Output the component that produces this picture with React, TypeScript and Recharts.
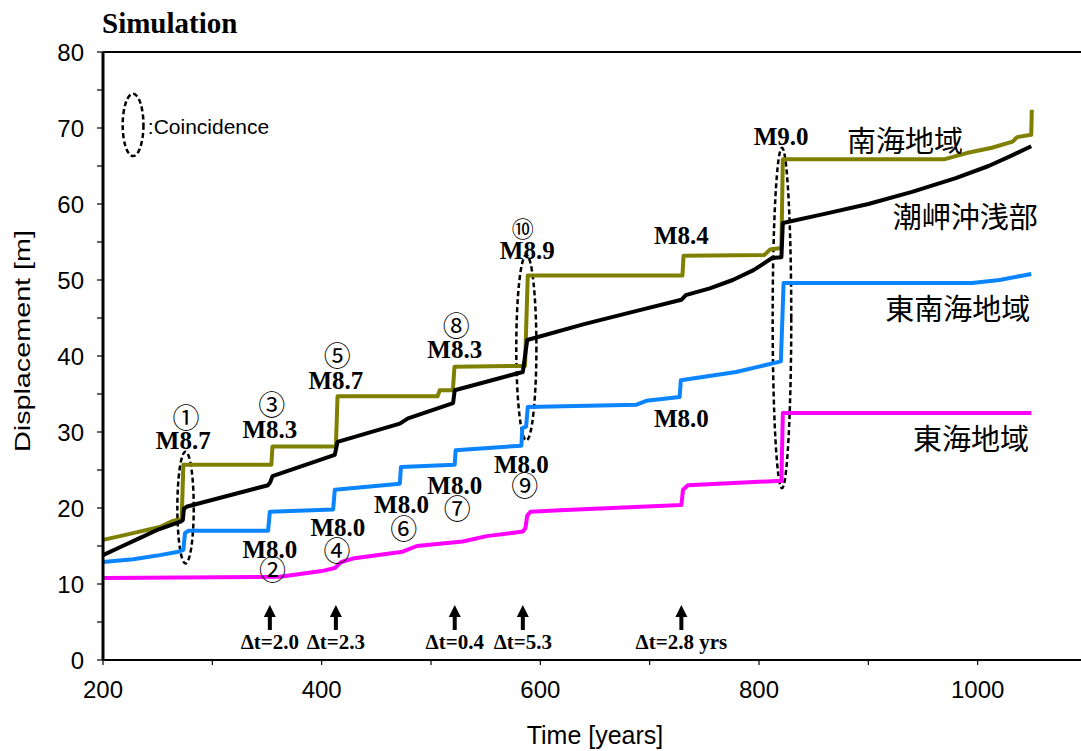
import React from 'react';
import { LineChart, Line, XAxis, YAxis, ReferenceArea, ReferenceDot } from 'recharts';

// ---- series data (years, displacement [m]) ----
const nankaiYears = [200, 215.5, 227.4, 240, 252, 264, 272, 273.5, 354, 355, 413, 414.5, 506, 508, 520, 521.5, 586, 588.5, 730, 731, 805, 810, 820.5, 821.8, 970, 990, 1013, 1032, 1036, 1049, 1049.5];
const nankaiDisp = [15.8, 16.3, 16.7, 17.1, 17.5, 18.3, 18.6, 25.7, 25.7, 28.1, 28.1, 34.7, 34.7, 35.5, 35.5, 38.6, 38.7, 50.6, 50.6, 53.2, 53.3, 54.0, 54.2, 65.9, 65.9, 66.7, 67.4, 68.2, 68.8, 69.1, 72.4];

const shionoYears = [200, 215, 233, 251, 271, 273, 274, 277, 351, 353, 355, 412, 414.5, 471.5, 479, 520.2, 521.7, 584, 588, 640, 690, 729, 733, 755, 776, 795, 812, 820.5, 821.8, 860, 900, 940, 980, 1010, 1030, 1049];
const shionoDisp = [13.8, 14.8, 16.0, 17.2, 18.2, 18.4, 19.9, 20.2, 23.0, 23.4, 24.2, 27.0, 28.7, 31.1, 31.8, 33.8, 35.5, 37.9, 42.1, 44.2, 46.0, 47.4, 48.0, 48.9, 50.0, 51.3, 52.9, 53.0, 57.5, 58.7, 60.0, 61.6, 63.4, 65.0, 66.3, 67.6];

const tonankaiYears = [200, 227.7, 252, 269, 273.5, 275, 278, 351, 352.6, 410.5, 412, 471.5, 472.5, 521.7, 522.5, 582.7, 583.5, 587, 588.5, 688, 697, 727.4, 728.5, 779, 800, 820, 822.5, 995, 1020, 1049];
const tonankaiDisp = [12.9, 13.25, 13.8, 14.25, 14.5, 16.7, 17.0, 17.0, 19.5, 19.8, 22.4, 23.2, 25.4, 25.7, 27.6, 28.2, 30.5, 30.7, 33.3, 33.6, 34.1, 34.6, 36.8, 37.9, 38.6, 39.3, 49.6, 49.6, 50.0, 50.8];

const tokaiYears = [200, 362, 400, 412, 418, 430, 474, 487, 529, 551, 584, 586.5, 588, 591, 618, 729, 730.5, 735, 816, 820.5, 821.8, 1049];
const tokaiDisp = [10.8, 10.95, 11.7, 12.1, 12.9, 13.4, 14.25, 15.0, 15.6, 16.3, 16.9, 17.4, 19.0, 19.5, 19.7, 20.4, 22.4, 23.0, 23.55, 23.55, 32.5, 32.5];

// ---- axes ----
const xTicks = [200, 300, 400, 500, 600, 700, 800, 900, 1000, 1100];
const yTicks = [0, 5, 10, 15, 20, 25, 30, 35, 40, 45, 50, 55, 60, 65, 70, 75, 80];

// ---- coincidence ellipses ----
const ellX1 = [268, 578, 812.5];
const ellX2 = [283, 596.4, 829.5];
const ellY1 = [12.7, 28.9, 22.6];
const ellY2 = [27.4, 53.3, 67.4];
const legendEllX = [218, 237];
const legendEllY = [66.3, 74.5];
const legendText = ':Coincidence';
const legendTextPos = [241, 70.2];

// ---- magnitude labels ----
const magLabels = ['M8.7', 'M8.3', 'M8.7', 'M8.3', 'M8.9', 'M8.4', 'M9.0', 'M8.0', 'M8.0', 'M8.0', 'M8.0', 'M8.0', 'M8.0'];
const magYears = [273.4, 352.6, 413, 521.7, 588, 729, 820.3, 352.6, 414.8, 473, 521.7, 582.7, 729];
const magValues = [28.9, 30.3, 36.8, 40.8, 53.9, 55.9, 68.9, 14.5, 17.5, 20.4, 23.0, 25.7, 31.8];

// ---- event numbers ----
const eventLabels = ['①', '②', '③', '④', '⑤', '⑥', '⑦', '⑧', '⑨', '⑩'];
const eventYears = [275.9, 355, 354.3, 414, 414.2, 475, 523.9, 523.2, 585.7, 584];
const eventValues = [32.0, 12.0, 33.8, 14.6, 40.2, 17.4, 20.1, 44.2, 23.15, 57.0];

// ---- region names ----
const regionLabels = ['南海地域', '潮岬沖浅部', '東南海地域', '東海地域'];
const regionYears = [933.6, 988.7, 981.9, 994];
const regionValues = [68.6, 58.55, 46.5, 29.4];

// ---- time-lag arrows ----
const arrowYears = [352.6, 413, 521.7, 584, 729];
const arrowTipValue = 7.24;
const arrowLabels = ['Δt=2.0', 'Δt=2.3', 'Δt=0.4', 'Δt=5.3', 'Δt=2.8 yrs'];
const arrowLabelValue = 2.4;

const zip = (xs: number[], ys: number[]) => xs.map((t, i) => ({ t, v: ys[i] }));

const nankai = zip(nankaiYears, nankaiDisp);
const shiono = zip(shionoYears, shionoDisp);
const tonankai = zip(tonankaiYears, tonankaiDisp);
const tokai = zip(tokaiYears, tokaiDisp);

const serifBold = { fontFamily: '"Liberation Serif", "Times New Roman", serif', fontWeight: 700 };
const sans = '"Liberation Sans", Arial, sans-serif';
const cjk = '"Noto Sans CJK JP", "Noto Sans CJK SC", sans-serif';

const ellipseShape = (p: any) => (
  <ellipse
    cx={p.x + p.width / 2}
    cy={p.y + p.height / 2}
    rx={p.width / 2}
    ry={p.height / 2}
    fill="none"
    stroke="#000"
    strokeWidth={2.5}
    strokeDasharray="5 3"
  />
);

const textShape = (label: string, style: any, anchor = 'middle') => (p: any) => (
  <text x={p.cx} y={p.cy} textAnchor={anchor} dominantBaseline="central" style={style}>
    {label}
  </text>
);

const arrowShape = (p: any) => (
  <g>
    <polygon points={`${p.cx},${p.cy} ${p.cx - 6},${p.cy + 12} ${p.cx + 6},${p.cy + 12}`} fill="#000" />
    <rect x={p.cx - 2} y={p.cy + 10} width={4} height={15} fill="#000" />
  </g>
);

const yLabelContent = (props: any) => {
  const vb = props && props.viewBox ? props.viewBox : { y: 52, height: 608 };
  const cx = 22;
  const cy = vb.y + vb.height / 2 - 15;
  return (
    <text
      x={cx}
      y={cy}
      transform={`rotate(-90, ${cx}, ${cy})`}
      textAnchor="middle"
      dominantBaseline="central"
      textLength={222}
      lengthAdjust="spacingAndGlyphs"
      style={{ fill: '#000', fontSize: 22, fontFamily: sans }}
    >
      Displacement [m]
    </text>
  );
};

export default function App() {
  return (
    <div style={{ position: 'fixed', left: 0, top: 0, width: 1081, height: 751, overflow: 'hidden', background: '#fff' }}>
      <div
        style={{
          position: 'absolute',
          left: 102,
          top: 9,
          fontSize: 29,
          lineHeight: '29px',
          whiteSpace: 'nowrap',
          ...serifBold,
        }}
      >
        Simulation
      </div>
      <LineChart width={1090} height={751} margin={{ top: 42, right: 3, bottom: 0, left: 0 }}>
        <XAxis
          dataKey="t"
          type="number"
          domain={[200, 1100]}
          ticks={xTicks}
          interval={0}
          tickFormatter={(v: number) => (v % 200 === 0 && v <= 1000 ? String(v) : '')}
          height={91}
          tickSize={5}
          tickMargin={16}
          axisLine={{ stroke: '#000', strokeWidth: 2 }}
          tickLine={{ stroke: '#000', strokeWidth: 1.2 }}
          tick={{ fill: '#000', fontSize: 24, fontFamily: sans }}
          label={{ value: 'Time [years]', position: 'insideBottom', offset: 7, style: { fill: '#000', fontSize: 25, fontFamily: sans } }}
        />
        <XAxis
          xAxisId="top"
          orientation="top"
          type="number"
          domain={[200, 1100]}
          ticks={xTicks}
          interval={0}
          tickFormatter={() => ''}
          height={10}
          tickSize={4}
          axisLine={{ stroke: '#000', strokeWidth: 2 }}
          tickLine={{ stroke: '#000', strokeWidth: 1.2 }}
        />
        <YAxis
          type="number"
          domain={[0, 80]}
          ticks={yTicks}
          interval={0}
          width={103}
          tickFormatter={(v: number) => (v % 10 === 0 ? String(v) : '')}
          tickSize={6}
          tickMargin={13}
          axisLine={{ stroke: '#000', strokeWidth: 3 }}
          tickLine={{ stroke: '#000', strokeWidth: 1.2 }}
          tick={{ fill: '#000', fontSize: 24, fontFamily: sans }}
          label={{ content: yLabelContent }}
        />

        {ellX1.map((x1, i) => (
          <ReferenceArea key={'e' + i} x1={x1} x2={ellX2[i]} y1={ellY1[i]} y2={ellY2[i]} shape={ellipseShape} />
        ))}
        <ReferenceArea x1={legendEllX[0]} x2={legendEllX[1]} y1={legendEllY[0]} y2={legendEllY[1]} shape={ellipseShape} />
        <ReferenceDot
          x={legendTextPos[0]}
          y={legendTextPos[1]}
          r={0}
          shape={textShape(legendText, { fontFamily: sans, fontSize: 21, fill: '#000' }, 'start')}
        />

        <Line data={tokai} dataKey="v" type="linear" stroke="#FF00FF" strokeWidth={4} dot={false} isAnimationActive={false} strokeLinejoin="round" />
        <Line data={tonankai} dataKey="v" type="linear" stroke="#0A84FF" strokeWidth={4} dot={false} isAnimationActive={false} strokeLinejoin="round" />
        <Line data={nankai} dataKey="v" type="linear" stroke="#808000" strokeWidth={4} dot={false} isAnimationActive={false} strokeLinejoin="round" />
        <Line data={shiono} dataKey="v" type="linear" stroke="#000000" strokeWidth={4} dot={false} isAnimationActive={false} strokeLinejoin="round" />

        {magLabels.map((m, i) => (
          <ReferenceDot key={'m' + i} x={magYears[i]} y={magValues[i]} r={0} shape={textShape(m, { ...serifBold, fontSize: 25, fill: '#000' })} />
        ))}
        {eventLabels.map((m, i) => (
          <ReferenceDot
            key={'n' + i}
            x={eventYears[i]}
            y={eventValues[i]}
            r={0}
            shape={textShape(m, { fontFamily: cjk, fontSize: m === '⑩' ? 22 : 27, fill: '#000' })}
          />
        ))}
        {regionLabels.map((m, i) => (
          <ReferenceDot key={'r' + i} x={regionYears[i]} y={regionValues[i]} r={0} shape={textShape(m, { fontFamily: cjk, fontSize: 29, fill: '#000' })} />
        ))}
        {arrowYears.map((x, i) => (
          <ReferenceDot key={'a' + i} x={x} y={arrowTipValue} r={0} shape={arrowShape} />
        ))}
        {arrowLabels.map((m, i) => (
          <ReferenceDot key={'al' + i} x={arrowYears[i]} y={arrowLabelValue} r={0} shape={textShape(m, { ...serifBold, fontSize: 21, fill: '#000' })} />
        ))}
      </LineChart>
    </div>
  );
}
